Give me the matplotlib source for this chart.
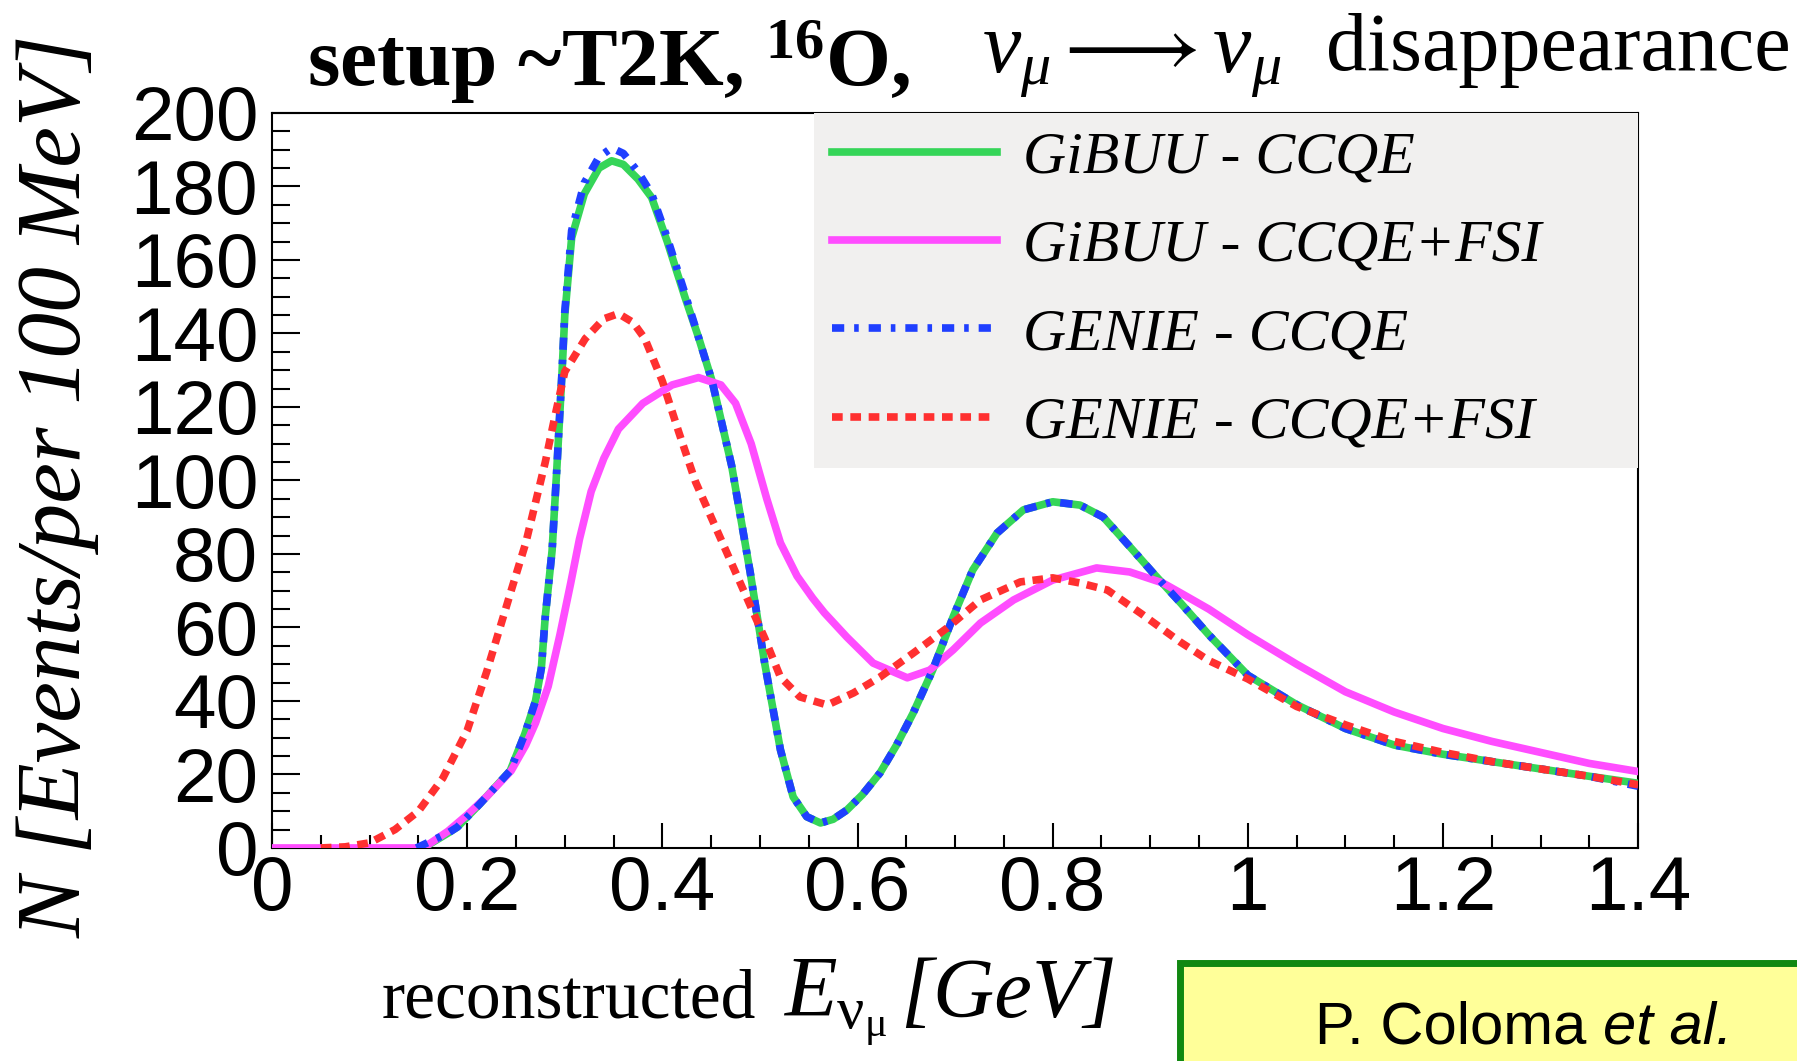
import matplotlib
matplotlib.use("Agg")
import matplotlib.pyplot as plt
from matplotlib.patches import Rectangle
from matplotlib.text import Annotation
from matplotlib.ticker import MultipleLocator, FuncFormatter

# GiBUU - CCQE
e_gibuu = [0.155, 0.18, 0.19, 0.213, 0.244, 0.259, 0.27, 0.276, 0.28, 0.287, 0.292,
           0.297, 0.30, 0.307, 0.32, 0.335, 0.348, 0.36, 0.375, 0.389, 0.405, 0.423,
           0.437, 0.451, 0.471, 0.49, 0.505, 0.521, 0.534, 0.548, 0.562, 0.575, 0.589,
           0.605, 0.623, 0.64, 0.657, 0.677, 0.698, 0.718, 0.743, 0.77, 0.80, 0.828,
           0.852, 0.879, 0.903, 0.931, 0.96, 1.0, 1.05, 1.1, 1.15, 1.2, 1.25, 1.3,
           1.35, 1.4]
n_gibuu = [0, 4, 5.7, 12, 21, 31, 40, 49, 63, 81, 104,
           128.5, 145, 166, 178, 185, 187, 186, 182, 177, 165, 150,
           139, 127, 104, 75, 50, 26.7, 13.9, 8.5, 6.8, 7.8, 10.3,
           14.5, 20.4, 28, 36.7, 48.4, 62.9, 75.6, 85.7, 92, 94.2, 93.3,
           90, 82, 74.8, 66.7, 58, 47, 39, 32.5, 28, 25.5, 23.5, 21.5,
           19.5, 17.6]

# GiBUU - CCQE+FSI
e_gibuu_fsi = [0.0, 0.155, 0.18, 0.20, 0.22, 0.245, 0.26, 0.27, 0.283, 0.295,
               0.306, 0.315, 0.327, 0.34, 0.355, 0.38, 0.41, 0.437, 0.46, 0.475,
               0.491, 0.507, 0.521, 0.538, 0.554, 0.566, 0.589, 0.616, 0.651, 0.674,
               0.698, 0.726, 0.76, 0.80, 0.845, 0.879, 0.913, 0.931, 0.96, 1.0,
               1.05, 1.1, 1.15, 1.2, 1.25, 1.3, 1.35, 1.4]
n_gibuu_fsi = [0, 0, 4.5, 9, 14, 21, 28, 34, 44, 58,
               72, 84, 97, 106, 114, 121, 126, 128, 126, 121,
               110, 95, 83, 74, 68, 64, 57.4, 50.3, 46.3, 48.4,
               53.9, 61.2, 67.5, 72.9, 76.2, 75.1, 72.1, 69.4, 65, 58,
               50, 42.5, 37, 32.5, 29, 26, 23, 20.8]

# GENIE - CCQE
e_genie = [0.148, 0.18, 0.19, 0.213, 0.244, 0.259, 0.27, 0.276, 0.28, 0.287, 0.292,
           0.297, 0.30, 0.307, 0.32, 0.335, 0.348, 0.36, 0.375, 0.389, 0.405, 0.423,
           0.437, 0.451, 0.471, 0.49, 0.505, 0.521, 0.534, 0.548, 0.562, 0.575, 0.589,
           0.605, 0.623, 0.64, 0.657, 0.677, 0.698, 0.718, 0.743, 0.77, 0.80, 0.828,
           0.852, 0.879, 0.903, 0.931, 0.96, 1.0, 1.05, 1.1, 1.15, 1.2, 1.25, 1.3,
           1.35, 1.4]
n_genie = [0, 4, 5.7, 12, 21, 31, 40, 49, 63, 81, 104,
           129, 146, 168, 181, 188, 190.5, 189, 184, 178, 166, 151,
           139, 127, 104, 75, 50, 26.7, 13.9, 8.5, 6.8, 7.8, 10.3,
           14.5, 20.4, 28, 36.7, 48.4, 62.9, 75.6, 85.7, 92, 94.2, 93.3,
           90, 82, 74.8, 66.7, 58, 47, 39, 32.5, 28, 25.5, 23.5, 21.5,
           19.5, 16.8]

# GENIE - CCQE+FSI
e_genie_fsi = [0.05, 0.075, 0.10, 0.126, 0.15, 0.175, 0.20, 0.22, 0.245, 0.26,
               0.28, 0.29, 0.30, 0.321, 0.34, 0.355, 0.37, 0.382, 0.40, 0.417,
               0.434, 0.45, 0.47, 0.49, 0.505, 0.521, 0.541, 0.569, 0.596, 0.623,
               0.657, 0.692, 0.726, 0.767, 0.80, 0.828, 0.856, 0.89, 0.931, 0.96,
               1.0, 1.05, 1.1, 1.15, 1.2, 1.25, 1.3, 1.35, 1.4]
n_genie_fsi = [0, 0.3, 1.4, 5, 10, 19, 32, 48, 70, 83,
               105, 117.6, 129.6, 138.6, 144, 145.4, 143, 138.6, 127, 113,
               99.6, 90, 78, 66, 57, 46.5, 41.1, 38.9, 42.2, 46.5,
               53, 59.9, 67.5, 72.4, 73.5, 72.1, 70.2, 63.9, 56, 51,
               46, 38.5, 33.5, 29, 26, 23.5, 21.5, 19.5, 17.2]

labels = ["GiBUU - CCQE", "GiBUU - CCQE+FSI", "GENIE - CCQE", "GENIE - CCQE+FSI"]

plt.rcParams["font.family"] = "Liberation Sans"
plt.rcParams["mathtext.fontset"] = "custom"
plt.rcParams["mathtext.rm"] = "Liberation Serif"
plt.rcParams["mathtext.it"] = "Liberation Serif:italic"
plt.rcParams["mathtext.bf"] = "Liberation Serif:bold"

fig = plt.figure(figsize=(17.97, 10.61), dpi=100)
ax = fig.add_axes([0.1514, 0.2008, 0.7602, 0.6927])

lw = 5.5
l1, = ax.plot(e_gibuu, n_gibuu, color="#35d558", lw=lw, label=labels[0], zorder=3)
l2, = ax.plot(e_gibuu_fsi, n_gibuu_fsi, color="#ff4dff", lw=lw, label=labels[1], zorder=3)
l3, = ax.plot(e_genie, n_genie, color="#1f3fff", lw=lw, label=labels[2], zorder=4,
              dashes=(1.6, 1.3, 0.6, 1.3), dash_capstyle="butt")
l4, = ax.plot(e_genie_fsi, n_genie_fsi, color="#ff3030", lw=lw, label=labels[3], zorder=4,
              dashes=(1.4, 1.0), dash_capstyle="butt")

ax.set_xlim(0, 1.4)
ax.set_ylim(0, 200)
ax.xaxis.set_major_locator(MultipleLocator(0.2))
ax.xaxis.set_minor_locator(MultipleLocator(0.05))
ax.yaxis.set_major_locator(MultipleLocator(20))
ax.yaxis.set_minor_locator(MultipleLocator(5))
ax.xaxis.set_major_formatter(FuncFormatter(lambda v, p: f"{v:g}"))

ax.tick_params(axis="both", which="both", direction="in", width=1.5,
               labelsize=55, top=False, right=False)
ax.tick_params(axis="x", which="major", length=18, pad=5)
ax.tick_params(axis="x", which="minor", length=9.5)
ax.tick_params(axis="y", which="major", length=20, pad=10)
ax.tick_params(axis="y", which="minor", length=13)
for sp in ax.spines.values():
    sp.set_linewidth(1.5)

leg = ax.legend(handles=[l1, l2, l3, l4], loc="upper left",
                bbox_to_anchor=(0.397, 0.0, 0.603, 1.0), mode="expand",
                prop={"family": "Liberation Serif", "style": "italic", "size": 43},
                handlelength=2.75, handletextpad=0.45, borderpad=0.3,
                labelspacing=0.56, borderaxespad=0.0, frameon=True,
                fancybox=False, framealpha=1.0)
leg.get_frame().set_facecolor("#f1f0ef")
leg.get_frame().set_edgecolor("none")

# title pieces
fig.text(307 / 1797, 1 - 86 / 1061, r"setup ~T2K, $^{\mathbf{16}}$O,",
         fontsize=60, weight="bold", family="Liberation Serif", va="baseline")
fig.text(982 / 1797, 1 - 72 / 1061, r"$\nu_\mu \longrightarrow \nu_\mu$",
         fontsize=62, family="Liberation Serif", va="baseline")
fig.text(1326 / 1797, 1 - 70 / 1061, "disappearance",
         fontsize=59, family="Liberation Serif", va="baseline")

# axis titles
fig.text(382 / 1797, 1 - 1017 / 1061, "reconstructed",
         fontsize=50, family="Liberation Serif", va="baseline")
fig.text(783 / 1797, 1 - 1017 / 1061, r"$E_{\mathrm{\nu}_{\mathrm{\mu}}}$",
         fontsize=62, family="Liberation Serif", va="baseline")
fig.text(900 / 1797, 1 - 1017 / 1061, "[GeV]", fontsize=61,
         family="Liberation Serif", style="italic", va="baseline")
fig.text(58 / 1797, 0.542, "N [Events/per 100 MeV]", rotation=90, fontsize=66,
         family="Liberation Serif", style="italic", ha="center", va="center")

# reference box
fig.patches.append(Rectangle((1180 / 1797, -0.05), 0.5, 1 - 963 / 1061 + 0.05,
                             transform=fig.transFigure, facecolor="#ffff99",
                             edgecolor="#118811", lw=5, zorder=1))
t1 = fig.text(1315 / 1797, 1 - 1056 / 1061, "P. Coloma ", fontsize=43,
              family="Liberation Sans", va="bottom", zorder=2)
t2 = Annotation("et al.", xy=(1, 0), xycoords=t1, fontsize=43,
                family="Liberation Sans", style="italic", va="bottom",
                annotation_clip=False, zorder=2)
fig.add_artist(t2)

fig.savefig("out.png", dpi=100)
